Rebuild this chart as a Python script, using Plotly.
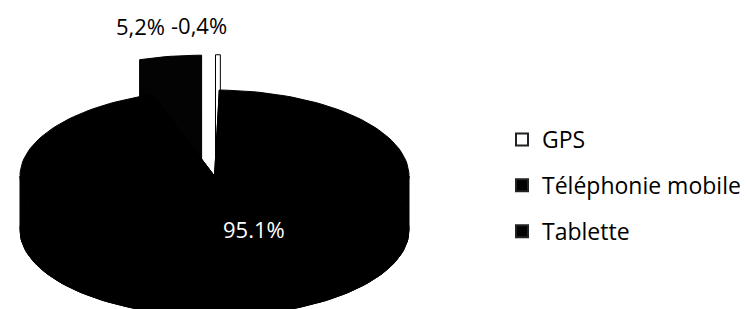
import numpy as np
import plotly.graph_objects as go

# ---- data ----
categories = ["GPS", "Téléphonie mobile", "Tablette"]
values = [-0.4, 95.1, 5.2]
value_labels = ["-0,4%", "95.1%", "5,2%"]

# ---- style ----
colors = ["#ffffff", "#000000", "#030303"]
explode = [0.41, 0.0, 0.41]
FONT = "Open Sans"
W, H = 748, 309
CX, CY, RX, RY, T = 206.5, 168.0, 194.5, 86.0, 54.0


def pt(theta, z, off):
    th = np.radians(theta)
    return (CX + RX * np.sin(th) + off[0], CY - RY * np.cos(th) + z + off[1])


def hull(points):
    pts = sorted(set(points))
    def cross(o, a, b):
        return (a[0]-o[0])*(b[1]-o[1]) - (a[1]-o[1])*(b[0]-o[0])
    lower, upper = [], []
    for p in pts:
        while len(lower) >= 2 and cross(lower[-2], lower[-1], p) <= 0:
            lower.pop()
        lower.append(p)
    for p in reversed(pts):
        while len(upper) >= 2 and cross(upper[-2], upper[-1], p) <= 0:
            upper.pop()
        upper.append(p)
    return lower[:-1] + upper[:-1]


fig = go.Figure()

absvals = np.abs(values)
shares = absvals / absvals.sum() * 360.0
starts = np.concatenate([[0.0], np.cumsum(shares)[:-1]])


def add_poly(poly, color):
    xs = [p[0] for p in poly] + [poly[0][0]]
    ys = [p[1] for p in poly] + [poly[0][1]]
    fig.add_trace(go.Scatter(x=xs, y=ys, mode="lines", fill="toself",
                             fillcolor=color, line=dict(color="#000000", width=1),
                             showlegend=False, hoverinfo="skip"))


# draw back (exploded) slices first, main slice last
order = sorted(range(len(values)), key=lambda i: -explode[i])
geo = {}
for i in order:
    a0, a1 = starts[i], starts[i] + shares[i]
    mid = (a0 + a1) / 2
    e = explode[i]
    off = (e * RX * np.sin(np.radians(mid)), -e * RY * np.cos(np.radians(mid)))
    geo[i] = (a0, a1, mid, off)
    n = max(4, int(shares[i] / 2) + 2)
    angs = np.linspace(a0, a1, n)
    top = [pt(a, 0, off) for a in angs]
    bot = [pt(a, T, off) for a in angs]
    ctop = (CX + off[0], CY + off[1])
    cbot = (CX + off[0], CY + T + off[1])
    if shares[i] < 180:
        add_poly(hull(top + bot + [ctop, cbot]), colors[i])
    else:
        add_poly([cbot] + bot, colors[i])
        # front side band (only the visible front half)
        f0, f1 = max(a0, 90.0), min(a1, 270.0)
        fa = np.linspace(f0, f1, 90)
        ftop = [pt(a, 0, off) for a in fa]
        fbot = [pt(a, T, off) for a in fa]
        add_poly(ftop + fbot[::-1], colors[i])
        add_poly([ctop, top[0], bot[0], cbot], colors[i])
        add_poly([ctop, top[-1], bot[-1], cbot], colors[i])
        add_poly([ctop] + top, colors[i])

# legend entries
for i, c in enumerate(categories):
    fig.add_trace(go.Scatter(x=[None], y=[None], mode="markers", name=c,
                             legendgroup=c,
                             marker=dict(symbol="square", size=13, color=colors[i],
                                         line=dict(color="#222222", width=1))))

# labels
annotations = []
for i in range(len(values)):
    a0, a1, mid, off = geo[i]
    if explode[i] > 0:
        x, y = pt(mid, 0, off)
        if mid > 180:
            annotations.append(dict(x=x - 3, y=y - 13, text=value_labels[i], xanchor="right",
                                    yanchor="bottom", showarrow=False,
                                    font=dict(family=FONT, size=22, color="#000000")))
        else:
            annotations.append(dict(x=x - 19, y=y - 13, text=value_labels[i], xanchor="center",
                                    yanchor="bottom", showarrow=False,
                                    font=dict(family=FONT, size=22, color="#000000")))
    else:
        th = np.radians(mid)
        x = CX + 0.73 * RX * np.sin(th) + 18
        y = CY - 0.73 * RY * np.cos(th) - 9
        annotations.append(dict(x=x, y=y, text=value_labels[i], xanchor="center",
                                yanchor="middle", showarrow=False,
                                font=dict(family=FONT, size=22, color="#ffffff")))

fig.update_layout(
    width=W, height=H,
    margin=dict(l=0, r=0, t=0, b=0),
    paper_bgcolor="#ffffff", plot_bgcolor="#ffffff",
    xaxis=dict(range=[0, W], visible=False, fixedrange=True),
    yaxis=dict(range=[H, 0], visible=False, fixedrange=True),
    showlegend=True,
    legend=dict(x=494 / W, y=1 - 110 / H, xanchor="left", yanchor="top",
                font=dict(family=FONT, size=23, color="#000000"),
                tracegroupgap=13, bgcolor="rgba(0,0,0,0)", itemsizing="constant"),
    annotations=annotations,
)

fig.write_html("out.html")
